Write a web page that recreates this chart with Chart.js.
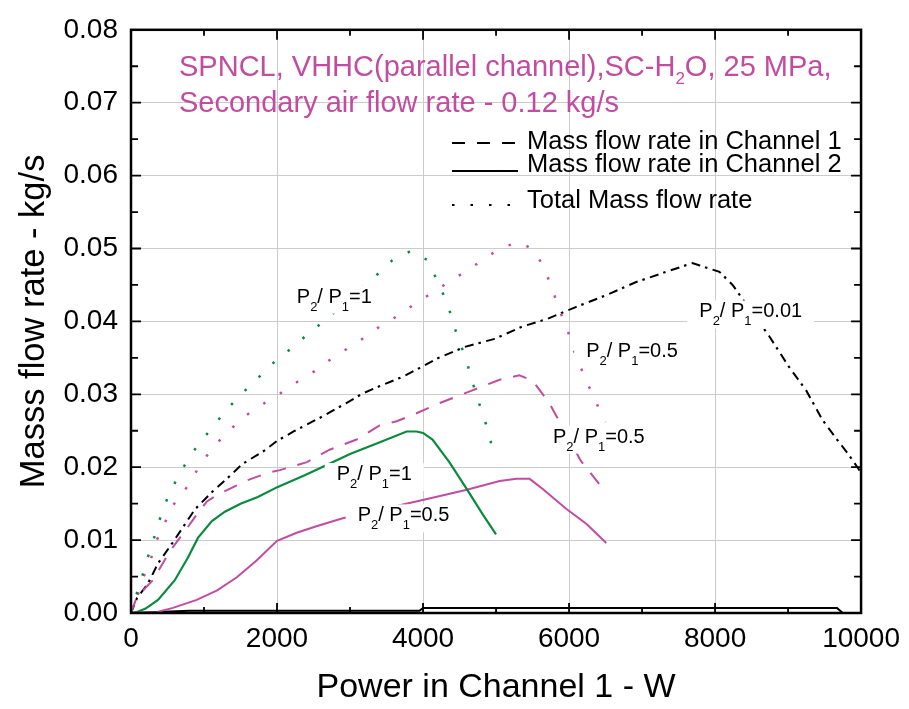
<!DOCTYPE html>
<html><head><meta charset="utf-8">
<script src="https://cdn.jsdelivr.net/npm/chart.js@4/dist/chart.umd.min.js"></script>
<style>html,body{margin:0;padding:0;background:#fff}canvas{display:block}</style>
</head><body>
<canvas id="c" width="909" height="709"></canvas>
<script>
const FONT = "'Liberation Sans', Arial, Helvetica, sans-serif";
const MAGENTA = '#c24ca0';
const GREEN = '#0a8a3e';

// ---- data (Power in channel 1 [W], mass flow rate [kg/s]) ----
// P2/P1 = 1, channel 2 (solid green)
const g2X = [0, 100, 200, 370, 600, 780, 917, 1108, 1286, 1500, 1737, 2011, 2380, 2680, 3000, 3400, 3775, 3910, 4000, 4130, 4360, 4600, 4820, 5000];
const g2Y = [0, 0.0002, 0.0006, 0.0018, 0.0045, 0.0076, 0.0103, 0.0126, 0.0139, 0.0150, 0.0159, 0.0173, 0.0189, 0.0203, 0.0218, 0.0234, 0.0249, 0.0249, 0.0247, 0.0238, 0.0207, 0.0170, 0.0135, 0.0108];
// P2/P1 = 1, total (dotted green)
const gTX = [0, 80, 150, 215, 290, 355, 440, 535, 630, 765, 920, 1110, 1310, 1520, 1970, 2220, 2450, 2680, 3380, 3580, 3840, 4060, 4170, 4270, 4360, 4430, 4510, 4600, 4650, 4730, 4800, 4870, 4940, 5000];
const gTY = [0, 0.0027, 0.0049, 0.0072, 0.0094, 0.0116, 0.0143, 0.0166, 0.0184, 0.0208, 0.0231, 0.0254, 0.0279, 0.0301, 0.0345, 0.0365, 0.0385, 0.0403, 0.0465, 0.0484, 0.0497, 0.0484, 0.0461, 0.0439, 0.0416, 0.0392, 0.0369, 0.0346, 0.0324, 0.0301, 0.0277, 0.0257, 0.0230, 0.0216];
// P2/P1 = 0.5, channel 1 (dashed magenta)
const m1X = [0, 80, 300, 535, 765, 900, 1040, 1180, 1590, 1900, 2040, 2410, 2720, 3090, 3400, 3640, 3910, 4230, 4640, 5050, 5320, 5500, 5730, 6160, 6420, 6470];
const m1Y = [0, 0.0022, 0.0045, 0.0085, 0.0116, 0.0135, 0.0153, 0.0162, 0.0182, 0.0193, 0.0196, 0.0207, 0.0224, 0.0238, 0.0257, 0.0263, 0.0274, 0.0288, 0.0304, 0.0320, 0.0326, 0.0319, 0.0288, 0.0209, 0.0176, 0.0164];
// P2/P1 = 0.5, channel 2 (solid magenta)
const m2X = [0, 350, 575, 900, 1180, 1450, 1720, 2000, 2270, 2540, 2900, 4130, 4600, 5050, 5280, 5460, 5640, 5960, 6240, 6510];
const m2Y = [0, 0.0001, 0.0007, 0.0018, 0.0031, 0.0049, 0.0072, 0.0099, 0.0110, 0.0119, 0.0130, 0.0158, 0.0169, 0.0181, 0.0184, 0.0184, 0.0170, 0.0143, 0.0122, 0.0096];
// P2/P1 = 0.5, total (dotted magenta)
const mTX = [0, 100, 160, 260, 330, 440, 535, 710, 835, 970, 1150, 1350, 1590, 1830, 2040, 2290, 2520, 2760, 3000, 3230, 3450, 3680, 3910, 4160, 4360, 4610, 4840, 5070, 5320, 5530, 5650, 5740, 5830, 5910, 6000, 6070, 6250, 6360, 6460, 6500];
const mTY = [0, 0.0027, 0.0047, 0.0069, 0.0096, 0.0116, 0.0143, 0.0164, 0.0184, 0.0207, 0.0230, 0.0251, 0.0272, 0.0288, 0.0301, 0.0318, 0.0332, 0.0350, 0.0365, 0.0380, 0.0396, 0.0409, 0.0426, 0.0441, 0.0455, 0.0470, 0.0486, 0.0501, 0.0509, 0.0497, 0.0474, 0.0453, 0.0427, 0.0405, 0.0382, 0.0359, 0.0315, 0.0292, 0.0268, 0.0262];
// P2/P1 = 0.01, channel 1 and total coincide (black dashed + dotted)
const k1X = [0, 80, 230, 370, 560, 875, 1110, 1290, 1520, 1830, 2000, 2245, 2630, 2950, 3170, 3400, 3720, 3990, 4190, 4570, 4980, 5360, 5690, 6100, 6510, 6920, 7330, 7690, 7780, 8060, 8240, 8740, 9010, 9250, 9470, 9700, 9810, 9970, 10000];
const k1Y = [0, 0.0020, 0.0040, 0.0068, 0.0095, 0.0142, 0.0166, 0.0182, 0.0204, 0.0223, 0.0236, 0.0250, 0.0270, 0.0288, 0.0301, 0.0311, 0.0324, 0.0338, 0.0349, 0.0365, 0.0376, 0.0393, 0.0403, 0.0420, 0.0436, 0.0454, 0.0468, 0.0480, 0.0477, 0.0468, 0.0450, 0.0380, 0.0338, 0.0305, 0.0265, 0.0234, 0.0220, 0.0197, 0.0190];
// P2/P1 = 0.01, channel 2 (solid black, near zero)
const k2X = [0, 800, 3950, 4000, 9670, 9750, 10000];
const k2Y = [0, 0.0003, 0.0003, 0.0007, 0.0007, 0, 0];

// curve labels: position (W, kg/s) and ratio text
const labelX = [2271, 2818, 3105, 6234, 5780, 7784];
const labelY = [0.04257, 0.01824, 0.01257, 0.03514, 0.02338, 0.04054];
const labelRatio = ['1', '1', '0.5', '0.5', '0.5', '0.01'];

const legendLabels = ['Mass flow rate in Channel 1', 'Mass flow rate in Channel 2', 'Total Mass flow rate'];
const titleLine1 = ['SPNCL, VHHC(parallel channel),SC-H', '2', 'O, 25 MPa,'];
const titleLine2 = 'Secondary air flow rate - 0.12 kg/s';

const xTitle = 'Power in Channel 1 - W';
const yTitle = 'Masss flow rate - kg/s';

function pts(xs, ys) { return xs.map((x, i) => ({x: x, y: ys[i]})); }

const DOT = [2.5, 17];
const DASH = [14, 12];

const decor = {
  id: 'decor',
  afterDatasetsDraw(chart) {
    const ctx = chart.ctx;
    const xs = chart.scales.x, ys = chart.scales.y;
    const a = chart.chartArea;
    ctx.save();
    // curve labels with white boxes
    labelRatio.forEach((r, i) => {
      const px = xs.getPixelForValue(labelX[i]);
      const py = ys.getPixelForValue(labelY[i]);
      const segs = [['P', 0], ['2', 1], ['/ P', 0], ['1', 1], ['=' + r, 0]];
      let w = 0;
      segs.forEach(s => { ctx.font = (s[1] ? '13px ' : '20px ') + FONT; w += ctx.measureText(s[0]).width; });
      ctx.fillStyle = '#fff';
      ctx.fillRect(px - 12, py - 17, w + 24, 28);
      ctx.fillStyle = '#000';
      ctx.textBaseline = 'alphabetic';
      ctx.textAlign = 'left';
      let cx = px;
      segs.forEach(s => {
        ctx.font = (s[1] ? '13px ' : '20px ') + FONT;
        ctx.fillText(s[0], cx, s[1] ? py + 8 : py);
        cx += ctx.measureText(s[0]).width;
      });
    });

    // frame
    ctx.strokeStyle = '#000';
    ctx.lineWidth = 2.5;
    ctx.strokeRect(a.left, a.top, a.right - a.left, a.bottom - a.top);
    // inward ticks on all four sides
    ctx.lineWidth = 1.8;
    ctx.beginPath();
    for (let v = 0; v <= 10000; v += 1000) {
      const p = xs.getPixelForValue(v);
      const len = (v % 2000 === 0) ? 10 : 6;
      ctx.moveTo(p, a.bottom); ctx.lineTo(p, a.bottom - len);
      ctx.moveTo(p, a.top); ctx.lineTo(p, a.top + len);
    }
    for (let k = 0; k <= 16; k++) {
      const p = ys.getPixelForValue(k * 0.005);
      const len = (k % 2 === 0) ? 10 : 7;
      ctx.moveTo(a.left, p); ctx.lineTo(a.left + len, p);
      ctx.moveTo(a.right, p); ctx.lineTo(a.right - len, p);
    }
    ctx.stroke();

    // title text (magenta)
    ctx.fillStyle = MAGENTA;
    ctx.textAlign = 'left';
    ctx.textBaseline = 'alphabetic';
    let tx = 179;
    ctx.font = '29px ' + FONT;
    ctx.fillText(titleLine1[0], tx, 76); tx += ctx.measureText(titleLine1[0]).width;
    ctx.font = '17px ' + FONT;
    ctx.fillText(titleLine1[1], tx, 84); tx += ctx.measureText(titleLine1[1]).width;
    ctx.font = '29px ' + FONT;
    ctx.fillText(titleLine1[2], tx, 76);
    ctx.fillText(titleLine2, 179, 112);

    // legend
    const sampleY = [143, 171, 205];
    const baseY = [149, 172, 208];
    const dashes = [[13, 12], [], [2.5, 16]];
    ctx.strokeStyle = '#000';
    ctx.lineWidth = 2;
    for (let i = 0; i < 3; i++) {
      ctx.setLineDash(dashes[i]);
      ctx.beginPath();
      ctx.moveTo(452, sampleY[i]); ctx.lineTo(518, sampleY[i]);
      ctx.stroke();
    }
    ctx.setLineDash([]);
    ctx.fillStyle = '#000';
    ctx.font = '25.5px ' + FONT;
    legendLabels.forEach((t, i) => ctx.fillText(t, 527, baseY[i]));
    ctx.restore();
  }
};

new Chart(document.getElementById('c'), {
  type: 'line',
  data: {
    datasets: [
      {label: 'g2', data: pts(g2X, g2Y), borderColor: GREEN, borderWidth: 2.2},
      {label: 'gT', data: pts(gTX, gTY), borderColor: GREEN, borderWidth: 2.5, borderDash: DOT},
      {label: 'm1', data: pts(m1X, m1Y), borderColor: MAGENTA, borderWidth: 2, borderDash: DASH},
      {label: 'm2', data: pts(m2X, m2Y), borderColor: MAGENTA, borderWidth: 2},
      {label: 'mT', data: pts(mTX, mTY), borderColor: MAGENTA, borderWidth: 2.5, borderDash: DOT},
      {label: 'k1', data: pts(k1X, k1Y), borderColor: '#000', borderWidth: 2, borderDash: [9, 13]},
      {label: 'kT', data: pts(k1X, k1Y), borderColor: '#000', borderWidth: 2.2, borderDash: [2.5, 19.5], borderDashOffset: -14},
      {label: 'k2', data: pts(k2X, k2Y), borderColor: '#000', borderWidth: 2}
    ]
  },
  options: {
    responsive: false,
    animation: false,
    devicePixelRatio: 1,
    layout: {padding: {left: 0, right: 47, top: 21, bottom: 0}},
    plugins: {legend: {display: false}, tooltip: {enabled: false}},
    elements: {point: {radius: 0}, line: {tension: 0, borderCapStyle: 'butt', fill: false}},
    scales: {
      x: {
        type: 'linear', min: 0, max: 10000,
        ticks: {stepSize: 2000, color: '#000', font: {family: FONT, size: 28}, padding: 9, maxRotation: 0, autoSkip: false, callback: v => String(v)},
        grid: {color: '#cccccc', lineWidth: 1, drawTicks: false},
        border: {display: false},
        title: {display: true, text: xTitle, color: '#000', font: {family: FONT, size: 34}, padding: {top: 0, bottom: 1}},
        afterFit(s) { s.height = 96; }
      },
      y: {
        type: 'linear', min: 0, max: 0.08,
        ticks: {stepSize: 0.01, color: '#000', font: {family: FONT, size: 28}, padding: 13, callback: v => v.toFixed(2)},
        grid: {color: '#cccccc', lineWidth: 1, drawTicks: false},
        border: {display: false},
        title: {display: true, text: yTitle, color: '#000', font: {family: FONT, size: 34.5}, padding: {top: 14, bottom: 0}},
        afterFit(s) { s.width = 131; }
      }
    }
  },
  plugins: [decor]
});
</script>
</body></html>
